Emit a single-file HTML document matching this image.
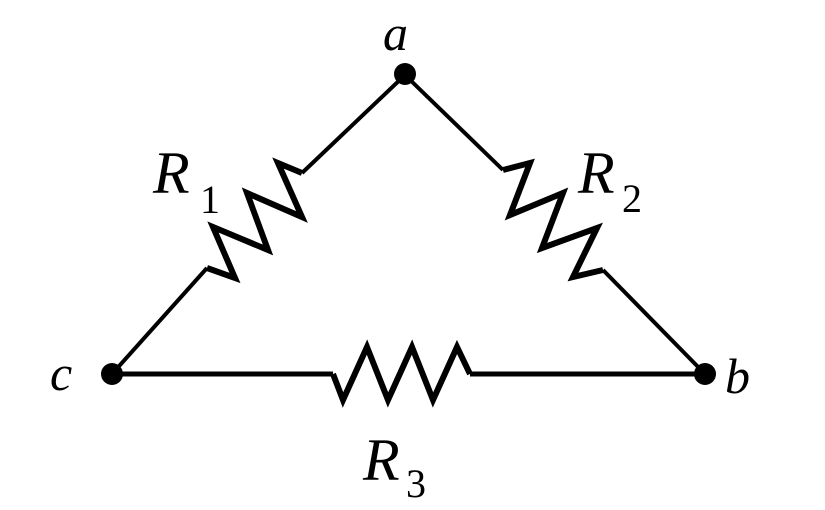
<!DOCTYPE html>
<html><head><style>body{margin:0;background:#fff}svg{display:block}</style></head><body>
<svg width="825" height="510" viewBox="0 0 825 510" xmlns="http://www.w3.org/2000/svg">
<g fill="none" stroke="#000" stroke-linejoin="miter" stroke-linecap="butt">
<polyline stroke-width="4" points="405,75 302,173"/>
<polyline stroke-width="6" points="302,173 278,163 302,217 247,193 268,250 213,227 235,278 207,268"/>
<polyline stroke-width="4" points="207,268 112,374"/>
<polyline stroke-width="4" points="405,75 503,170"/>
<polyline stroke-width="6" points="503,170 530,163 510,215 563,193 542,248 597,228 573,277 603,270"/>
<polyline stroke-width="4" points="603,270 705,374"/>
<polyline stroke-width="5" points="112,374 333,374"/>
<polyline stroke-width="6" points="333,374 343,400 367,347 388,400 412,347 433,400 457,347 470,374"/>
<polyline stroke-width="5" points="470,374 705,374"/>
</g>
<circle cx="405" cy="74" r="11"/>
<circle cx="112" cy="374" r="11"/>
<circle cx="705" cy="374" r="11"/>
<g font-family="Liberation Serif, serif" font-style="italic" font-size="50">
<text x="383" y="50">a</text>
<text x="50" y="390">c</text>
<text x="725" y="393">b</text>
</g>
<g font-family="Liberation Serif, serif" font-style="italic" font-size="60">
<text x="153" y="193">R</text>
<text x="578" y="193">R</text>
<text x="363" y="480">R</text>
</g>
<g font-family="Liberation Serif, serif" font-size="40">
<text x="200" y="213">1</text>
<text x="622" y="212">2</text>
<text x="406" y="497">3</text>
</g>
</svg>
</body></html>
